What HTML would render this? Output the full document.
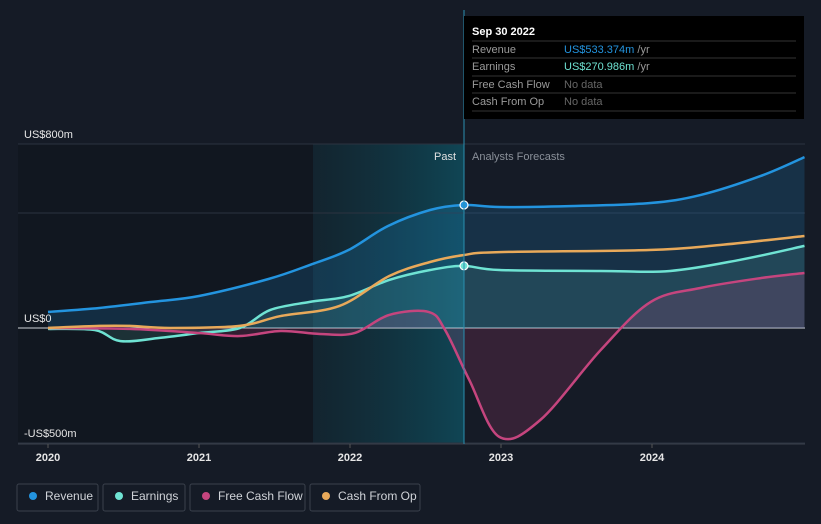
<!DOCTYPE html>
<html><head><meta charset="utf-8"><style>
body{margin:0;background:#151b26;font-family:"Liberation Sans",sans-serif;}
svg{display:block}
</style></head><body>
<svg id="c" width="821" height="524" xmlns="http://www.w3.org/2000/svg">
<defs>
<linearGradient id="tealG" x1="0" x2="1" y1="0" y2="0"><stop offset="0" stop-color="#0e3a45" stop-opacity="0.3"/><stop offset="1" stop-color="#0f4a5a" stop-opacity="0.9"/></linearGradient>
</defs>
<rect x="0" y="0" width="821" height="524" fill="#151b26"/>
<rect x="18" y="144" width="295" height="300" fill="#111720"/>
<rect x="313" y="144" width="151" height="300" fill="url(#tealG)"/>
<g id="grid"></g>
<g id="areas"></g>
<g id="lines"></g>
<line x1="464" y1="10" x2="464" y2="444" stroke="#2a8fb0" stroke-width="1"/>
<text x="456" y="160" fill="#e0e0e0" font-size="11" text-anchor="end">Past</text>
<text x="472" y="160" fill="#8a9099" font-size="11">Analysts Forecasts</text>
<g id="ylab"></g>
<g id="xlab"></g>
<g>
<rect x="464" y="16" width="340" height="103" fill="#000"/>
<text x="472" y="35" fill="#fff" font-size="11" font-weight="bold">Sep 30 2022</text>
<line x1="472" y1="41" x2="796" y2="41" stroke="#333"/>
<text x="472" y="53" fill="#9a9a9a" font-size="11">Revenue</text>
<text x="564" y="53" fill="#2394df" font-size="11">US$533.374m <tspan fill="#9a9a9a">/yr</tspan></text>
<line x1="472" y1="58" x2="796" y2="58" stroke="#333"/>
<text x="472" y="70" fill="#9a9a9a" font-size="11">Earnings</text>
<text x="564" y="70" fill="#6fe3d3" font-size="11">US$270.986m <tspan fill="#9a9a9a">/yr</tspan></text>
<line x1="472" y1="76" x2="796" y2="76" stroke="#333"/>
<text x="472" y="88" fill="#9a9a9a" font-size="11">Free Cash Flow</text>
<text x="564" y="88" fill="#666" font-size="11">No data</text>
<line x1="472" y1="93" x2="796" y2="93" stroke="#333"/>
<text x="472" y="105" fill="#9a9a9a" font-size="11">Cash From Op</text>
<text x="564" y="105" fill="#666" font-size="11">No data</text>
<line x1="472" y1="111" x2="796" y2="111" stroke="#333"/>
</g>
<g id="legend"></g>
</svg>
<script>
const yTicks=[800,0,-500];
const yTickLabels=["US$800m","US$0","-US$500m"];
const xTicks=[2020,2021,2022,2023,2024];
const revT=[2020,2020.34,2020.68,2021,2021.46,2021.75,2021.99,2022.25,2022.53,2022.75,2022.99,2023.45,2023.98,2024.32,2024.72,2025.01];
const revV=[70,87,113,139,213,278,339,443,513,535,526,530,543,578,661,743];
const earnT=[2020,2020.31,2020.48,2020.74,2021,2021.27,2021.47,2021.73,2021.99,2022.26,2022.53,2022.75,2022.99,2023.66,2024.12,2024.58,2025.01];
const earnV=[-4,-9,-57,-43,-22,0,78,113,139,209,252,270,252,248,248,296,357];
const fcfT=[2020,2020.54,2021,2021.27,2021.54,2021.8,2022.03,2022.26,2022.52,2022.63,2022.79,2022.99,2023.26,2023.66,2023.99,2024.32,2024.72,2025.01];
const fcfV=[0,-4,-22,-35,-13,-26,-22,57,70,-9,-226,-474,-400,-96,113,174,217,239];
const cfoT=[2020,2020.34,2020.54,2020.81,2021.27,2021.54,2021.93,2022.26,2022.53,2022.75,2022.99,2023.98,2024.45,2025.01];
const cfoV=[0,9,9,0,9,52,96,226,287,317,330,339,361,400];
const X=t=>48+(t-2020)*151;
const Y=v=>328-v*0.23;
const NS="http://www.w3.org/2000/svg";
function el(tag,attrs,parent){const e=document.createElementNS(NS,tag);for(const k in attrs)e.setAttribute(k,attrs[k]);parent.appendChild(e);return e;}
function pathD(T,V){const p=T.map((t,i)=>[X(t),Y(V[i])]);let d="M"+p[0][0]+","+p[0][1];
for(let i=0;i<p.length-1;i++){const p0=p[i-1]||p[i],p1=p[i],p2=p[i+1],p3=p[i+2]||p2;
const c1=[p1[0]+(p2[0]-p0[0])/6,p1[1]+(p2[1]-p0[1])/6],c2=[p2[0]-(p3[0]-p1[0])/6,p2[1]-(p3[1]-p1[1])/6];
d+=` C${c1[0]},${c1[1]} ${c2[0]},${c2[1]} ${p2[0]},${p2[1]}`;}return d;}
const grid=document.getElementById('grid'),ylab=document.getElementById('ylab'),xlab=document.getElementById('xlab');
yTicks.forEach((v,i)=>{
const l=el('line',{x1:18,x2:805,y1:Y(v),y2:Y(v),stroke:v===0?'#cfd3d8':'#2c3340','stroke-width':1},grid);


const t=el('text',{x:24,y:Y(v)-6,fill:'#e6e6e6','font-size':11},ylab);t.textContent=yTickLabels[i];


});
el('line',{x1:18,x2:805,y1:Y(500),y2:Y(500),stroke:'#2c3340'},grid);
el('line',{x1:18,x2:805,y1:444,y2:444,stroke:'#3a414c'},grid);
xTicks.forEach(t=>{
el('line',{x1:X(t),x2:X(t),y1:444,y2:448,stroke:'#555'},grid);
const tx=el('text',{x:X(t),y:461,fill:'#e6e6e6','font-size':11,'font-weight':'bold','text-anchor':'middle'},xlab);tx.textContent=t;


});
const areas=document.getElementById('areas'),lines=document.getElementById('lines');
const series=[
{T:revT,V:revV,c:'#2394df',fill:'rgba(35,148,223,0.18)',n:'revenue'},
{T:earnT,V:earnV,c:'#6fe3d3',fill:'rgba(111,227,211,0.13)',n:'earnings'},
{T:fcfT,V:fcfV,c:'#c5457e',fill:'rgba(197,69,126,0.18)',n:'free-cash-flow'},
{T:cfoT,V:cfoV,c:'#e8a95a',fill:'none',n:'cash-from-op'}];
series.forEach(s=>{
const d=pathD(s.T,s.V);
if(s.fill!=='none'){const a=el('path',{d:d+` L${X(s.T[s.T.length-1])},${Y(0)} L${X(s.T[0])},${Y(0)} Z`,fill:s.fill},areas);

}
const p=el('path',{d:d,fill:'none',stroke:s.c,'stroke-width':2.5},lines);


});
[[535,'#2394df'],[270,'#6fe3d3']].forEach(([v,c])=>{const m=el('circle',{cx:464,cy:Y(v),r:4,fill:c,stroke:'#fff','stroke-width':1.2},lines);

});
const legend=document.getElementById('legend');
const leg=[['Revenue','#2394df',17,81],['Earnings','#6fe3d3',103,82],['Free Cash Flow','#c5457e',190,115],['Cash From Op','#e8a95a',310,110]];
leg.forEach(([n,c,x,w])=>{const g=el('g',{},legend);


el('rect',{x:x,y:484,width:w,height:27,rx:2,fill:'none',stroke:'#3a414c'},g);
el('circle',{cx:x+16,cy:496,r:4,fill:c},g);
const t=el('text',{x:x+28,y:500,fill:'#d0d3d8','font-size':12},g);t.textContent=n;});
</script>
</body></html>
